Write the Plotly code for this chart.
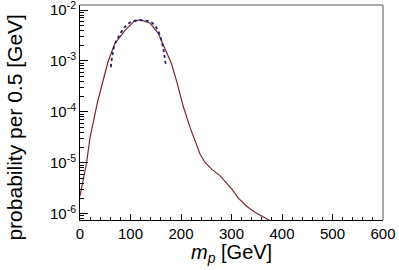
import plotly.graph_objects as go

# Solid curve (full distribution)
mass_solid = [0, 13, 20, 35, 50, 56, 69, 89, 106, 119, 139, 155, 168, 181, 191, 205,
              218, 228, 238, 248, 261, 277, 290, 300, 314, 330, 347, 376, 382]
prob_solid = [2.2e-6, 1.0e-5, 3.2e-5, 1.6e-4, 6.0e-4, 1.0e-3, 2.2e-3, 4.0e-3, 5.9e-3,
              6.5e-3, 5.5e-3, 3.5e-3, 1.75e-3, 8.9e-4, 4.1e-4, 1.23e-4, 4.9e-5, 2.7e-5,
              1.45e-5, 1.0e-5, 7.4e-6, 5.6e-6, 4.0e-6, 3.1e-6, 2.0e-6, 1.4e-6, 1.05e-6,
              7.2e-7, 6.8e-7]

# Dotted curve (fit around the peak)
mass_fit = [61, 68, 76, 89, 102, 119, 139, 152, 162, 167, 170]
prob_fit = [7.6e-4, 2.0e-3, 2.95e-3, 4.7e-3, 5.9e-3, 6.3e-3, 5.9e-3, 4.4e-3, 2.35e-3,
            1.3e-3, 8.1e-4]

x_ticks = [0, 100, 200, 300, 400, 500, 600]
y_tick_vals = [1e-6, 1e-5, 1e-4, 1e-3, 1e-2]
y_tick_text = ["10<sup>-6</sup>", "10<sup>-5</sup>", "10<sup>-4</sup>", "10<sup>-3</sup>", "10<sup>-2</sup>"]

minor_y = [m * d for d in [1e-7, 1e-6, 1e-5, 1e-4, 1e-3, 1e-2] for m in range(2, 10)]

fig = go.Figure()
fig.add_trace(go.Scatter(x=mass_solid, y=prob_solid, mode="lines",
                         line=dict(color="rgb(125,40,45)", width=1.2), showlegend=False))
fig.add_trace(go.Scatter(x=mass_fit, y=prob_fit, mode="lines",
                         line=dict(color="rgb(30,30,110)", width=1.8, dash="dot"),
                         line_shape="spline", showlegend=False))

font = "Liberation Sans, Arial, Helvetica, sans-serif"
fig.update_layout(
    width=399, height=270,
    margin=dict(l=80, r=16, t=5, b=50),
    paper_bgcolor="white", plot_bgcolor="white",
    font=dict(family=font, size=15, color="black"),
    xaxis=dict(range=[0, 600], tickvals=x_ticks, ticks="inside", ticklen=6,
               tickcolor="black", showline=True, linecolor="black", linewidth=1,
               showgrid=False, zeroline=False, ticklabeloverflow="allow",
               minor=dict(ticks="inside", ticklen=3, dtick=20, tickcolor="black", showgrid=False),
               automargin=False),
    yaxis=dict(type="log", range=[-6.125, -1.9], tickvals=y_tick_vals, ticktext=y_tick_text,
               ticks="inside", ticklen=8, tickcolor="black", showline=True, linecolor="black",
               linewidth=1, showgrid=False, zeroline=False, ticklabeloverflow="allow",
               minor=dict(ticks="inside", ticklen=4, tickvals=minor_y, tickcolor="black", showgrid=False),
               automargin=False),
    shapes=[
        dict(type="line", xref="paper", yref="paper", x0=0, x1=1, y0=1, y1=1,
             line=dict(color="rgb(140,140,140)", width=1.5)),
        dict(type="line", xref="paper", yref="paper", x0=1, x1=1, y0=0, y1=1,
             line=dict(color="rgb(140,140,140)", width=1.5)),
    ],
    annotations=[
        dict(text="probability per 0.5 [GeV]", xref="paper", yref="paper",
             x=-0.2145, y=0.43, xanchor="center", yanchor="middle", textangle=-90,
             showarrow=False, font=dict(size=21)),
        dict(text="<i>m</i><sub><i>p</i></sub> [GeV]", xref="paper", yref="paper",
             x=0.5, y=-0.155, xanchor="center", yanchor="middle",
             showarrow=False, font=dict(size=20)),
    ],
)

fig.write_html("out.html", config={"displayModeBar": False},
               post_script="document.body.style.margin='0';")
